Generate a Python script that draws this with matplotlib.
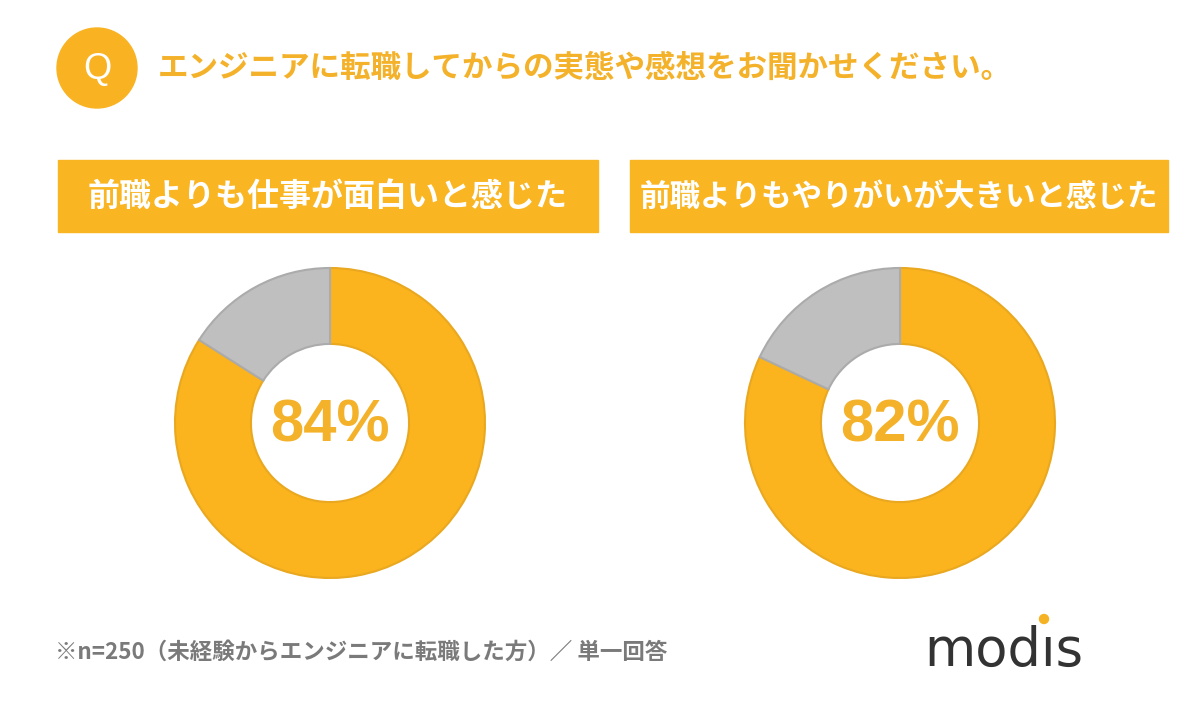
import matplotlib
matplotlib.use("Agg")
import matplotlib.pyplot as plt
from matplotlib.patches import Circle, Rectangle

plt.rcParams['font.family'] = ['Noto Sans CJK JP', 'DejaVu Sans']

# データ
question = "エンジニアに転職してからの実態や感想をお聞かせください。"
titles = ["前職よりも仕事が面白いと感じた", "前職よりもやりがいが大きいと感じた"]
yes_share = [84, 82]
other_share = [16, 18]
note = "※n=250（未経験からエンジニアに転職した方）／ 単一回答"

orange = "#FBB41E"
orange_edge = "#E9A81F"
gray = "#BFBFBF"
text_orange = "#F4B12A"

fig = plt.figure(figsize=(12, 7.1), dpi=100)
ax = fig.add_axes([0, 0, 1, 1])
ax.set_xlim(0, 1200)
ax.set_ylim(710, 0)
ax.axis('off')

# Q マーク
ax.add_patch(Circle((97, 68), 40, color="#F9B322"))
ax.text(97, 70, "Q", color="white", fontsize=26, ha="center", va="center",
        family="Liberation Sans")
ax.text(158, 68, question, color=text_orange, fontsize=22, fontweight="bold",
        ha="left", va="center")

# 見出し
boxes = [(58, 598), (630, 1168)]
sizes = [23, 22]
for (x0, x1), t, fs in zip(boxes, titles, sizes):
    ax.add_patch(Rectangle((x0, 160), x1 - x0, 72, color="#F9B522"))
    ax.text((x0 + x1) / 2, 197, t, color="white", fontsize=fs,
            fontweight="bold", ha="center", va="center")

# ドーナツ
centers = [330, 900]
r_px = 155
for cx, yes, other in zip(centers, yes_share, other_share):
    pax = fig.add_axes([(cx - r_px) / 1200, (710 - 423 - r_px) / 710,
                        2 * r_px / 1200, 2 * r_px / 710])
    wedges, _ = pax.pie([yes, other], startangle=90, counterclock=False,
                        colors=[orange, gray],
                        wedgeprops=dict(width=0.49, linewidth=1.5))
    wedges[0].set_edgecolor(orange_edge)
    wedges[1].set_edgecolor("#ABABAB")
    pax.set_xlim(-1, 1)
    pax.set_ylim(-1, 1)
    pax.set_aspect('equal')
    pax.text(0, -0.02, f"{yes}%", color=text_orange, fontsize=43,
             fontweight="bold", ha="center", va="center",
             family="Liberation Sans")

# 注記
ax.text(55, 652, note, color="#7A7A7A", fontsize=16.2, fontweight="bold",
        ha="left", va="center")

# ロゴ
ax.text(924, 666, "mod\u0131s", color="#333333", fontsize=38,
        ha="left", va="baseline", family="DejaVu Sans")
ax.add_patch(Circle((1044, 619), 4.5, color="#F5B324"))

fig.savefig("out.png", dpi=100)
